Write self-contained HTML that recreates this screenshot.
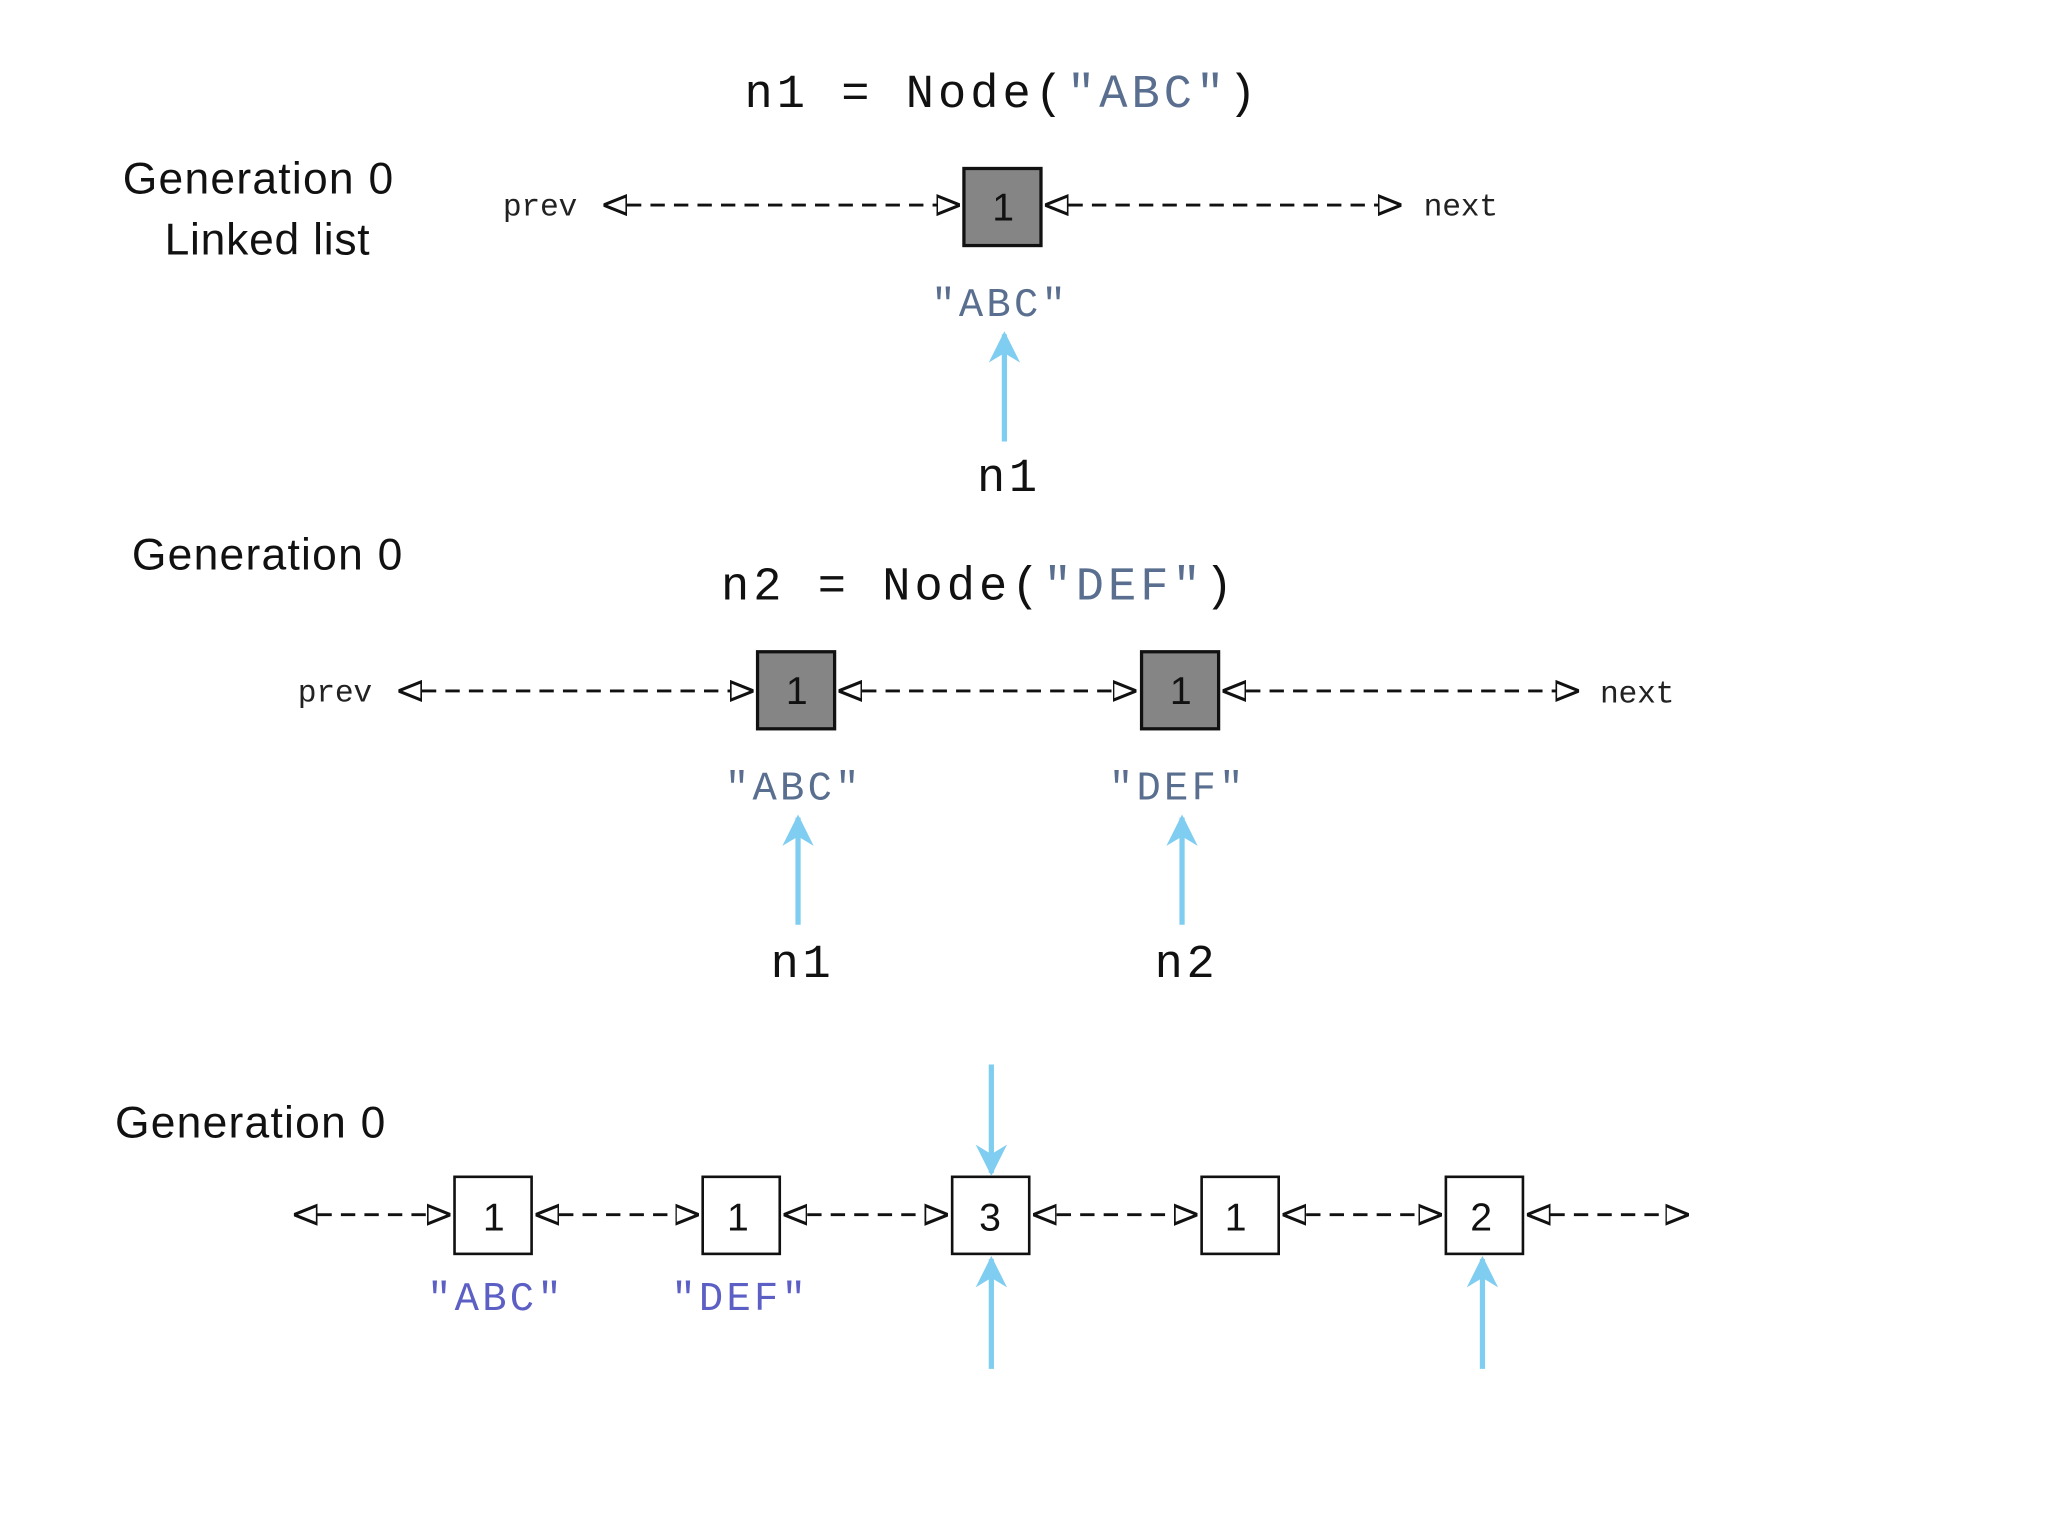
<!DOCTYPE html>
<html><head><style>
html,body{margin:0;padding:0;background:#fff;}
svg{display:block;}
.m{font-family:"Liberation Mono",monospace;}
.s{font-family:"Liberation Sans",sans-serif;}
.q{fill:#5a6f8f;}
.p{fill:#5c5fc4;}
</style></head><body>
<svg width="2048" height="1536" viewBox="0 0 1568 1176" xmlns="http://www.w3.org/2000/svg">
<defs>
<marker id="ah" viewBox="0 0 10 10" refX="10" refY="5" markerWidth="18" markerHeight="18" markerUnits="userSpaceOnUse" orient="auto-start-reverse">
<path d="M0,1 L10,5 L0,9 Z" fill="#fff" stroke="#111" stroke-width="1.3"/>
</marker>
<marker id="bh" viewBox="0 0 10 10" refX="9" refY="5" markerWidth="24" markerHeight="38" markerUnits="userSpaceOnUse" orient="auto">
<path d="M0,0 L10,5 L0,10 L3,5 Z" fill="#7fcdf0"/>
</marker>
</defs>
<g stroke="#111" stroke-width="2.2" stroke-dasharray="11,7" fill="none" marker-start="url(#ah)" marker-end="url(#ah)">
<line x1="462" y1="157" x2="735" y2="157"/>
<line x1="800" y1="157" x2="1073" y2="157"/>
<line x1="305" y1="529" x2="577" y2="529"/>
<line x1="642" y1="529" x2="870" y2="529"/>
<line x1="936" y1="529" x2="1209" y2="529"/>
<line x1="225" y1="930" x2="345" y2="930"/>
<line x1="410" y1="930" x2="535" y2="930"/>
<line x1="600" y1="930" x2="726" y2="930"/>
<line x1="791" y1="930" x2="917" y2="930"/>
<line x1="982" y1="930" x2="1104" y2="930"/>
<line x1="1169" y1="930" x2="1293" y2="930"/>
</g>
<g stroke="#111" stroke-width="2.5">
<rect x="738" y="129" width="59" height="59" fill="#858585"/>
<rect x="580" y="499" width="59" height="59" fill="#858585"/>
<rect x="874" y="499" width="59" height="59" fill="#858585"/>
<g fill="#fff" stroke-width="2">
<rect x="348" y="901" width="59" height="59"/>
<rect x="538" y="901" width="59" height="59"/>
<rect x="729" y="901" width="59" height="59"/>
<rect x="920" y="901" width="59" height="59"/>
<rect x="1107" y="901" width="59" height="59"/>
</g>
</g>
<g class="s" font-size="30" fill="#111" text-anchor="middle">
<text x="768" y="169">1</text><text x="610" y="539">1</text><text x="904" y="539">1</text>
<text x="378" y="942">1</text><text x="565" y="942">1</text><text x="758" y="942">3</text><text x="946" y="942">1</text><text x="1134" y="942">2</text>
</g>
<g stroke="#7fcdf0" stroke-width="4" marker-end="url(#bh)">
<line x1="769" y1="338" x2="769" y2="256"/>
<line x1="611" y1="708" x2="611" y2="626"/>
<line x1="905" y1="708" x2="905" y2="626"/>
<line x1="759" y1="815" x2="759" y2="898"/>
<line x1="759" y1="1048" x2="759" y2="964"/>
<line x1="1135" y1="1048" x2="1135" y2="964"/>
</g>
<g class="s" font-size="34" fill="#111">
<text x="94" y="148" textLength="207">Generation 0</text>
<text x="126" y="195" textLength="157">Linked list</text>
<text x="101" y="436" textLength="207">Generation 0</text>
<text x="88" y="871" textLength="207">Generation 0</text>
</g>
<g class="m" font-size="24" fill="#222">
<text x="385" y="165" textLength="57">prev</text><text x="1090" y="165" textLength="57">next</text>
<text x="228" y="537" textLength="57">prev</text><text x="1225" y="538" textLength="57">next</text>
</g>
<g class="m" font-size="36" fill="#111">
<text x="570" y="82" xml:space="preserve" textLength="392">n1 = Node(<tspan class="q">"ABC"</tspan>)</text>
<text x="552" y="459" xml:space="preserve" textLength="392">n2 = Node(<tspan class="q">"DEF"</tspan>)</text>
<text x="748" y="376" textLength="46">n1</text>
<text x="590" y="748" textLength="46">n1</text>
<text x="884" y="748" textLength="46">n2</text>
</g>
<g class="m" font-size="31">
<text class="q" x="713" y="242" textLength="103">"ABC"</text>
<text class="q" x="555" y="612" textLength="103">"ABC"</text>
<text class="q" x="849" y="612" textLength="103">"DEF"</text>
<text class="p" x="327" y="1003" textLength="103">"ABC"</text>
<text class="p" x="514" y="1003" textLength="103">"DEF"</text>
</g>
</svg>
</body></html>
